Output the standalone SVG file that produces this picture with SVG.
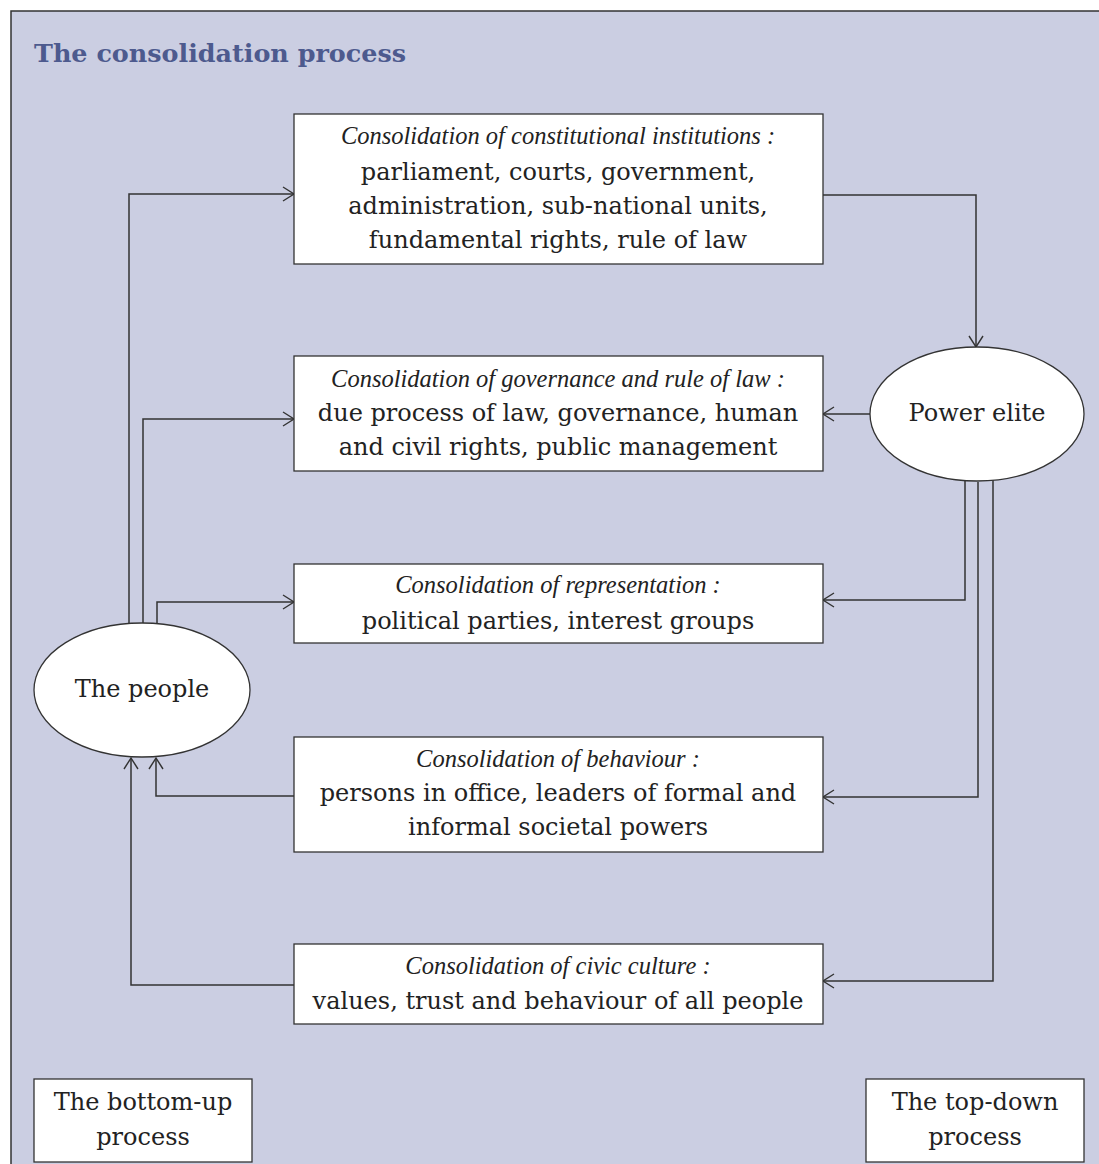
<svg xmlns="http://www.w3.org/2000/svg" width="1099" height="1164" viewBox="0 0 1099 1164">
<style>
.panel{fill:#cbcee2;stroke:#333;stroke-width:1.5}
.box{fill:#fff;stroke:#333;stroke-width:1.3}
.t{font-family:"DejaVu Serif",serif;font-size:24px;fill:#222;text-anchor:middle}
.i{font-family:"Liberation Serif",serif;font-style:italic;font-size:24.5px;fill:#222;text-anchor:middle}
.title{font-family:"DejaVu Serif",serif;font-weight:bold;font-size:24px;fill:#4d5a8e}
.c{fill:none;stroke:#333;stroke-width:1.5}
</style>
<defs>
<marker id="a" markerWidth="14" markerHeight="16" refX="12" refY="8" orient="auto" markerUnits="userSpaceOnUse">
<path d="M1,1 L12,8 L1,15" fill="none" stroke="#333" stroke-width="1.4"/>
</marker>
</defs>
<rect class="panel" x="11" y="11" width="1100" height="1165"/>
<text class="title" x="34" y="62" textLength="372" lengthAdjust="spacingAndGlyphs">The consolidation process</text>

<g id="connectors">
<path class="c" d="M129,623 V194 H294" marker-end="url(#a)"/>
<path class="c" d="M143,623 V419 H294" marker-end="url(#a)"/>
<path class="c" d="M157,625 V602 H294" marker-end="url(#a)"/>
<path class="c" d="M294,796 H156 V758" marker-end="url(#a)"/>
<path class="c" d="M294,985 H131 V758" marker-end="url(#a)"/>
<path class="c" d="M823,195 H976 V347" marker-end="url(#a)"/>
<path class="c" d="M870,414 H823" marker-end="url(#a)"/>
<path class="c" d="M965,481 V600 H823" marker-end="url(#a)"/>
<path class="c" d="M978,482 V797 H823" marker-end="url(#a)"/>
<path class="c" d="M993,480 V981 H823" marker-end="url(#a)"/>
</g>

<g id="box1">
<rect class="box" x="294" y="114" width="529" height="150"/>
<text class="i" x="558" y="144">Consolidation of constitutional institutions :</text>
<text class="t" x="558" y="180">parliament, courts, government,</text>
<text class="t" x="558" y="214">administration, sub-national units,</text>
<text class="t" x="558" y="248">fundamental rights, rule of law</text>
</g>
<g id="box2">
<rect class="box" x="294" y="356" width="529" height="115"/>
<text class="i" x="558" y="387">Consolidation of governance and rule of law :</text>
<text class="t" x="558" y="421">due process of law, governance, human</text>
<text class="t" x="558" y="455">and civil rights, public management</text>
</g>
<g id="box3">
<rect class="box" x="294" y="564" width="529" height="79"/>
<text class="i" x="558" y="593">Consolidation of representation :</text>
<text class="t" x="558" y="629">political parties, interest groups</text>
</g>
<g id="box4">
<rect class="box" x="294" y="737" width="529" height="115"/>
<text class="i" x="558" y="767">Consolidation of behaviour :</text>
<text class="t" x="558" y="801">persons in office, leaders of formal and</text>
<text class="t" x="558" y="835">informal societal powers</text>
</g>
<g id="box5">
<rect class="box" x="294" y="944" width="529" height="80"/>
<text class="i" x="558" y="974">Consolidation of civic culture :</text>
<text class="t" x="558" y="1009">values, trust and behaviour of all people</text>
</g>
<g id="power-elite">
<ellipse class="box" cx="977" cy="414" rx="107" ry="67"/>
<text class="t" x="977" y="421">Power elite</text>
</g>
<g id="the-people">
<ellipse class="box" cx="142" cy="690" rx="108" ry="67"/>
<text class="t" x="142" y="697">The people</text>
</g>
<g id="bottom-up">
<rect class="box" x="34" y="1079" width="218" height="83"/>
<text class="t" x="143" y="1110">The bottom-up</text>
<text class="t" x="143" y="1145">process</text>
</g>
<g id="top-down">
<rect class="box" x="866" y="1079" width="218" height="83"/>
<text class="t" x="975" y="1110">The top-down</text>
<text class="t" x="975" y="1145">process</text>
</g>
</svg>
